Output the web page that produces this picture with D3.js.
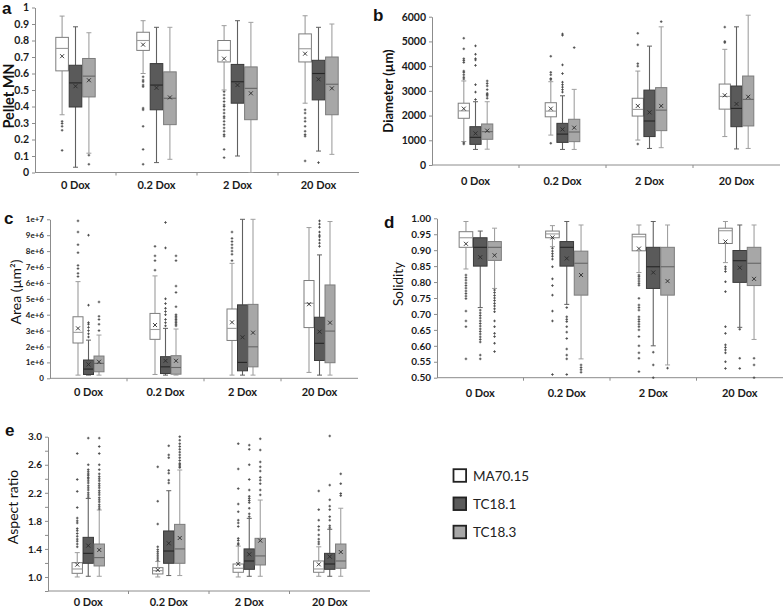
<!DOCTYPE html>
<html><head><meta charset="utf-8">
<script src="https://cdn.jsdelivr.net/npm/d3@7"></script>
<style>body{margin:0;background:#fff} svg{display:block}</style>
</head><body>
<svg id="chart" width="784" height="609"></svg>
<script>
const categories = ["0 Dox", "0.2 Dox", "2 Dox", "20 Dox"];
const series = ["MA70.15", "TC18.1", "TC18.3"];

// Each stat row: [low whisker, Q1, median, Q3, high whisker, mean]; indexed [category][series]
const pelletStats = [
  [[0.35, 0.616, 0.752, 0.819, 0.948, 0.705], [0.032, 0.397, 0.543, 0.65, 0.883, 0.523], [0.117, 0.458, 0.584, 0.691, 0.847, 0.559]],
  [[0.60, 0.74, 0.80, 0.85, 0.92, 0.775], [0.06, 0.38, 0.53, 0.66, 0.88, 0.513], [0.08, 0.29, 0.45, 0.61, 0.88, 0.455]],
  [[0.50, 0.67, 0.74, 0.80, 0.89, 0.69], [0.10, 0.42, 0.55, 0.655, 0.92, 0.53], [0.0, 0.32, 0.51, 0.64, 0.91, 0.48]],
  [[0.42, 0.67, 0.75, 0.84, 0.95, 0.72], [0.13, 0.44, 0.60, 0.68, 0.88, 0.565], [0.11, 0.35, 0.535, 0.70, 0.90, 0.51]]
];
const pelletOutliers = [
  [[0.31, 0.297, 0.28, 0.256, 0.134], [], [0.105, 0.05]],
  [[0.58, 0.56, 0.55, 0.53, 0.52, 0.39, 0.38, 0.28, 0.14, 0.05], [], []],
  [[0.49, 0.47, 0.45, 0.43, 0.41, 0.40, 0.38, 0.36, 0.34, 0.33, 0.31, 0.29, 0.27, 0.25, 0.23, 0.22, 0.14, 0.09], [], []],
  [[0.38, 0.36, 0.33, 0.31, 0.28, 0.25, 0.23, 0.22, 0.07], [0.06], []]
];
const pelletTicks = [0, 0.1, 0.2, 0.3, 0.4, 0.5, 0.6, 0.7, 0.8, 0.9, 1];

const diameterStats = [
  [[950, 1890, 2190, 2500, 3400, 2280], [630, 835, 1120, 1550, 2560, 1280], [640, 1040, 1350, 1660, 2560, 1390]],
  [[1210, 1950, 2180, 2520, 3370, 2280], [630, 915, 1250, 1685, 2800, 1440], [630, 945, 1335, 1850, 3060, 1510]],
  [[1010, 1980, 2250, 2700, 3800, 2390], [670, 1150, 1780, 3030, 4810, 2130], [700, 1390, 2220, 3130, 5590, 2390]],
  [[1150, 2260, 2775, 3275, 4680, 2820], [650, 1550, 2290, 3195, 5590, 2470], [670, 1580, 2655, 3600, 6060, 2760]]
];
const diameterOutliers = [
  [[5130, 4700, 4300, 4230, 4150, 3800, 3750, 3650, 3550, 3480, 900, 850], [4820, 4480, 4300, 4250, 4030, 3250, 2950, 2650], [3400, 3300, 3200, 3050, 2900, 2850, 2800, 2700]],
  [[4400, 3750, 3650, 3500, 3450, 880], [5300, 5250, 4050, 3700, 3350, 3250, 3150, 3050, 2950], [4750]],
  [[5330, 4860, 4100, 4000, 850], [], [5800]],
  [[5580, 5000, 4950], [], []]
];
const diameterTicks = [0, 1000, 2000, 3000, 4000, 5000, 6000];

const areaStats = [
  [[0.2e6, 2.22e6, 2.89e6, 3.87e6, 6.08e6, 3.14e6], [0.2e6, 0.24e6, 0.58e6, 1.15e6, 2.4e6, 0.87e6], [0.2e6, 0.41e6, 0.94e6, 1.4e6, 2.72e6, 1.04e6]],
  [[0.24e6, 2.45e6, 3.07e6, 4.08e6, 6.44e6, 3.35e6], [0.2e6, 0.3e6, 0.72e6, 1.36e6, 3.14e6, 1.1e6], [0.2e6, 0.26e6, 0.68e6, 1.42e6, 3.1e6, 1.1e6]],
  [[0.2e6, 2.38e6, 3.14e6, 4.36e6, 7.23e6, 3.52e6], [0.2e6, 0.47e6, 1.0e6, 4.62e6, 10.0e6, 2.58e6], [0.2e6, 0.72e6, 1.98e6, 4.65e6, 10.0e6, 2.87e6]],
  [[0.37e6, 3.19e6, 4.72e6, 6.15e6, 9.48e6, 4.66e6], [0.2e6, 1.12e6, 2.2e6, 3.84e6, 7.76e6, 2.93e6], [0.2e6, 0.98e6, 2.97e6, 5.87e6, 9.86e6, 3.5e6]]
];
const areaOutliers = [
  [[9.9e6, 9.2e6, 8.4e6, 7.9e6, 7.1e6, 6.9e6, 6.6e6, 6.4e6], [9.0e6, 4.6e6, 3.5e6, 3.4e6, 3.2e6, 3.0e6, 2.8e6, 2.6e6], [4.8e6, 3.9e6, 3.7e6, 3.4e6, 3.0e6]],
  [[8.3e6, 7.7e6, 7.4e6, 6.8e6], [9.8e6, 8.2e6, 5.0e6, 4.7e6, 4.4e6, 4.2e6, 4.0e6, 3.7e6, 3.5e6, 3.3e6], [7.7e6, 7.4e6, 5.8e6, 5.4e6, 4.5e6, 4.0e6, 3.9e6, 3.8e6, 3.7e6, 3.6e6, 3.5e6, 3.4e6, 3.3e6]],
  [[9.2e6, 8.8e6, 8.6e6, 8.4e6, 8.2e6, 8.0e6, 7.8e6, 7.4e6], [], []],
  [[], [9.9e6, 9.7e6, 9.5e6, 9.2e6, 9.0e6, 8.9e6, 8.7e6, 8.5e6, 8.3e6], []]
];
const areaTicks = [0, 1e6, 2e6, 3e6, 4e6, 5e6, 6e6, 7e6, 8e6, 9e6, 1e7];
const areaTickLabels = ["0", "1e+6", "2e+6", "3e+6", "4e+6", "5e+6", "6e+6", "7e+6", "8e+6", "9e+6", "1e+7"];

const solidityStats = [
  [[0.841, 0.909, 0.939, 0.958, 0.99, 0.92], [0.72, 0.85, 0.909, 0.939, 0.96, 0.878], [0.78, 0.868, 0.909, 0.927, 0.969, 0.884]],
  [[0.911, 0.939, 0.951, 0.96, 0.977, 0.94], [0.73, 0.85, 0.909, 0.927, 0.99, 0.874], [0.559, 0.759, 0.859, 0.897, 0.979, 0.822]],
  [[0.83, 0.898, 0.942, 0.95, 0.979, 0.905], [0.6, 0.78, 0.848, 0.909, 0.99, 0.83], [0.54, 0.759, 0.848, 0.909, 0.979, 0.803]],
  [[0.861, 0.921, 0.961, 0.969, 0.99, 0.927], [0.658, 0.799, 0.867, 0.899, 0.979, 0.845], [0.62, 0.789, 0.859, 0.909, 0.979, 0.81]]
];
const solidityOutliers = [
  [[0.822, 0.814, 0.806, 0.797, 0.789, 0.781, 0.772, 0.764, 0.756, 0.748, 0.709, 0.678, 0.66, 0.559],
   [0.712, 0.703, 0.695, 0.687, 0.678, 0.67, 0.662, 0.653, 0.645, 0.637, 0.628, 0.62, 0.612, 0.571, 0.559],
   [0.775, 0.767, 0.758, 0.75, 0.742, 0.733, 0.725, 0.716, 0.707, 0.678, 0.66, 0.639, 0.629, 0.608, 0.582]],
  [[0.906, 0.897, 0.889, 0.881, 0.872, 0.848, 0.81, 0.789, 0.759, 0.709, 0.678, 0.51],
   [0.72, 0.691, 0.683, 0.676, 0.66, 0.643, 0.623, 0.59, 0.571, 0.559, 0.51],
   [0.54, 0.532, 0.525, 0.517]],
  [[0.822, 0.817, 0.81, 0.803, 0.796, 0.79, 0.749, 0.728, 0.72, 0.712, 0.691, 0.683, 0.676, 0.668, 0.66, 0.65, 0.629, 0.6, 0.578, 0.561, 0.519],
   [0.58, 0.54, 0.5], [0.53]],
  [[0.848, 0.841, 0.833, 0.801, 0.77, 0.66, 0.639, 0.603, 0.595, 0.587, 0.578, 0.55, 0.529],
   [0.652, 0.561, 0.529], [0.561, 0.54, 0.5]]
];
const solidityTicks = [0.50, 0.55, 0.60, 0.65, 0.70, 0.75, 0.80, 0.85, 0.90, 0.95, 1.00];

const aspectStats = [
  [[1.0, 1.052, 1.114, 1.204, 1.347, 1.176], [1.01, 1.195, 1.337, 1.565, 2.12, 1.447], [1.01, 1.157, 1.276, 1.47, 1.955, 1.385]],
  [[1.0, 1.043, 1.09, 1.133, 1.22, 1.1], [1.02, 1.195, 1.37, 1.656, 2.23, 1.48], [1.02, 1.195, 1.4, 1.75, 2.525, 1.556]],
  [[1.0, 1.067, 1.124, 1.185, 1.44, 1.185], [1.01, 1.109, 1.228, 1.4, 1.836, 1.323], [1.01, 1.171, 1.3, 1.551, 2.097, 1.518]],
  [[1.01, 1.067, 1.114, 1.228, 1.43, 1.18], [1.01, 1.109, 1.185, 1.337, 1.68, 1.29], [1.01, 1.124, 1.228, 1.47, 1.98, 1.356]]
];
const aspectOutliers = [
  [[2.76, 2.39, 2.22, 1.99, 1.84, 1.8, 1.77, 1.69, 1.66, 1.62, 1.58, 1.54, 1.51, 1.47, 1.43],
   [2.98, 2.6, 2.53, 2.5, 2.47, 2.45, 2.42, 2.4, 2.37, 2.34, 2.3, 2.27, 2.24, 2.2, 2.17, 2.14],
   [2.98, 2.86, 2.76, 2.6, 2.53, 2.47, 2.43, 2.4, 2.37, 2.33, 2.3, 2.27, 2.23, 2.2, 2.17, 2.13, 2.1, 2.07, 2.03, 2.0, 1.97]],
  [[2.57, 2.08, 1.755, 1.43, 1.39, 1.36, 1.33, 1.3, 1.27, 1.24],
   [2.87, 2.74, 2.7, 2.52, 2.48, 2.38, 2.34],
   [3.0, 2.95, 2.9, 2.86, 2.82, 2.78, 2.74, 2.7, 2.66, 2.62, 2.6, 2.58, 2.56]],
  [[2.9, 2.54, 2.26, 2.04, 1.93, 1.81, 1.77, 1.72, 1.55, 1.52, 1.48, 1.46],
   [2.88, 2.82, 2.6, 2.39, 2.24, 2.15, 2.12, 2.09, 2.06, 1.98, 1.9, 1.86],
   [2.97, 2.81, 2.64, 2.57, 2.51, 2.42, 2.38, 2.33, 2.24, 2.17]],
  [[2.226, 1.96, 1.81, 1.72, 1.67, 1.6, 1.54, 1.5, 1.47],
   [3.01, 2.31, 2.1, 2.01, 1.96, 1.86, 1.81, 1.73, 1.7],
   [2.47, 2.33, 2.19, 2.16]]
];
const aspectTicks = [0.8, 1.0, 1.2, 1.4, 1.6, 1.8, 2.0, 2.2, 2.4, 2.6, 2.8, 3.0];
const aspectLabelled = [1.0, 1.4, 1.8, 2.2, 2.6, 3.0];

// ---------- layout ----------
const FONT = "Lato, 'Liberation Sans', Arial, sans-serif";
const LETTER_FONT = "'Liberation Sans', Arial, sans-serif";

const panels = [
  { letter: "a", lx: 2, ly: 14, stats: pelletStats, outliers: pelletOutliers, domain: [0, 1], ticks: pelletTicks,
    fmt: d => d === 0 ? "0" : d === 1 ? "1" : d3.format(".1f")(d),
    x0: 35, x1: 359, yTop: 7.5, yBot: 172.5, step: 13.4, boxW: 12.6, tickFont: 10.5, labelY: 189,
    title: "Pellet MN", tx: 8, ty: 96, tSize: 14.5, tWeight: "bold" },
  { letter: "b", lx: 373, ly: 21, stats: diameterStats, outliers: diameterOutliers, domain: [0, 6000], ticks: diameterTicks,
    fmt: d => String(d),
    x0: 432, x1: 780, yTop: 16.7, yBot: 165, step: 11.7, boxW: 11.2, tickFont: 10.5, labelY: 185,
    title: "Diameter (\u00B5m)", tx: 387.5, ty: 91, tSize: 13, tWeight: "bold" },
  { letter: "c", lx: 4, ly: 224, stats: areaStats, outliers: areaOutliers, domain: [0, 1e7], ticks: areaTicks,
    fmt: d => areaTickLabels[areaTicks.indexOf(d)],
    x0: 50, x1: 358, yTop: 219.3, yBot: 378.3, step: 10.5, boxW: 10, tickFont: 8, labelY: 396,
    title: "Area (\u00B5m\u00B2)", tx: 15, ty: 292, tSize: 14, tWeight: "normal" },
  { letter: "d", lx: 384, ly: 228, stats: solidityStats, outliers: solidityOutliers, domain: [0.5, 1.0], ticks: solidityTicks,
    fmt: d3.format(".2f"),
    x0: 437, x1: 783, yTop: 218.3, yBot: 377.7, step: 14.3, boxW: 13.6, tickFont: 10, labelY: 397,
    title: "Solidity", tx: 398, ty: 284, tSize: 13.5, tWeight: "normal" },
  { letter: "e", lx: 5, ly: 436, stats: aspectStats, outliers: aspectOutliers, domain: [0.8, 3.0], ticks: aspectTicks,
    fmt: d => aspectLabelled.some(v => Math.abs(v - d) < 1e-9) ? d3.format(".1f")(d) : "",
    x0: 48, x1: 370, yTop: 436.7, yBot: 591, step: 11, boxW: 10.4, tickFont: 10, labelY: 606,
    title: "Aspect ratio", tx: 12, ty: 507, tSize: 14, tWeight: "normal" }
];

const seriesStyle = [
  { fill: "#ffffff", stroke: "#7d7d7d", median: "#9a9a9a", whisker: "#9c9c9c" },
  { fill: "#5a5a5a", stroke: "#3a3a3a", median: "#262626", whisker: "#606060" },
  { fill: "#a7a7a7", stroke: "#7c7c7c", median: "#666666", whisker: "#a0a0a0" }
];

const svg = d3.select("#chart");
svg.append("rect").attr("width", 784).attr("height", 609).attr("fill", "#fff");

panels.forEach(p => {
  const g = svg.append("g");
  const x = d3.scaleBand().domain(categories).range([p.x0, p.x1]);
  const xs = d3.scaleBand().domain(series).range([-1.5 * p.step, 1.5 * p.step]);
  const y = d3.scaleLinear().domain(p.domain).range([p.yBot, p.yTop]);

  // y axis
  const ya = g.append("g").attr("transform", `translate(${p.x0},0)`)
    .call(d3.axisLeft(y).tickValues(p.ticks).tickSize(3).tickSizeOuter(0).tickPadding(3).tickFormat(p.fmt));
  ya.select(".domain").attr("stroke", "#8c8c8c");
  ya.selectAll(".tick line").attr("stroke", "#8c8c8c");
  ya.selectAll(".tick text").attr("font-family", FONT).attr("font-weight", "bold")
    .attr("font-size", p.tickFont).attr("fill", "#1a1a1a");

  // x axis
  g.append("line").attr("x1", p.x0).attr("x2", p.x1).attr("y1", p.yBot).attr("y2", p.yBot)
    .attr("stroke", "#8c8c8c");
  g.selectAll(".xtick").data(categories.slice(1)).join("line")
    .attr("x1", d => x(d)).attr("x2", d => x(d)).attr("y1", p.yBot).attr("y2", p.yBot + 3)
    .attr("stroke", "#8c8c8c");
  g.selectAll(".xlab").data(categories).join("text")
    .attr("x", d => x(d) + x.bandwidth() / 2).attr("y", p.labelY)
    .attr("text-anchor", "middle").attr("font-family", FONT).attr("font-weight", "bold")
    .attr("font-size", 11).attr("fill", "#1a1a1a").text(d => d);

  // boxes
  categories.forEach((cat, ci) => {
    series.forEach((s, si) => {
      const [lo, q1, med, q3, hi, mean] = p.stats[ci][si];
      const cx = x(cat) + x.bandwidth() / 2 + xs(s) + xs.bandwidth() / 2;
      const w = p.boxW;
      const sty = seriesStyle[si];
      const bg = g.append("g");
      bg.append("line").attr("x1", cx).attr("x2", cx).attr("y1", y(lo)).attr("y2", y(q1))
        .attr("stroke", sty.whisker).attr("stroke-width", 1.1);
      bg.append("line").attr("x1", cx).attr("x2", cx).attr("y1", y(q3)).attr("y2", y(hi))
        .attr("stroke", sty.whisker).attr("stroke-width", 1.1);
      [lo, hi].forEach(v => bg.append("line").attr("x1", cx - 2.5).attr("x2", cx + 2.5)
        .attr("y1", y(v)).attr("y2", y(v)).attr("stroke", sty.whisker).attr("stroke-width", 1));
      bg.append("rect").attr("x", cx - w / 2).attr("y", y(q3)).attr("width", w)
        .attr("height", Math.max(0.5, y(q1) - y(q3)))
        .attr("fill", sty.fill).attr("stroke", sty.stroke).attr("stroke-width", 1);
      bg.append("line").attr("x1", cx - w / 2).attr("x2", cx + w / 2).attr("y1", y(med)).attr("y2", y(med))
        .attr("stroke", sty.median).attr("stroke-width", 1.1);
      bg.append("path").attr("transform", `translate(${cx},${y(mean)})`)
        .attr("d", "M-2,-2L2,2M-2,2L2,-2").attr("stroke", "#2a2a2a").attr("stroke-width", 0.9).attr("fill", "none");
      bg.selectAll(".out").data(p.outliers[ci][si]).join("path")
        .attr("transform", d => `translate(${cx},${y(d)})`)
        .attr("d", "M-1.3,0H1.3M0,-1.3V1.3").attr("stroke", "#4a4a4a").attr("stroke-width", 0.9);
    });
  });

  g.append("text").attr("transform", `translate(${p.tx},${p.ty}) rotate(-90)`)
    .attr("text-anchor", "middle").attr("dominant-baseline", "central")
    .attr("font-family", FONT).attr("font-weight", p.tWeight).attr("font-size", p.tSize)
    .attr("fill", "#111").text(p.title);
  g.append("text").attr("x", p.lx).attr("y", p.ly).attr("font-family", LETTER_FONT)
    .attr("font-weight", "bold").attr("font-size", 17).attr("fill", "#111").text(p.letter);
});

// legend
const legendFill = ["#ffffff", "#5a5a5a", "#a7a7a7"];
const legendY = d3.scalePoint().domain(series).range([475.5, 532]);
const lg = svg.append("g");
series.forEach((s, i) => {
  lg.append("rect").attr("x", 453.5).attr("y", legendY(s) - 6.3).attr("width", 12.6).attr("height", 12.6)
    .attr("fill", legendFill[i]).attr("stroke", "#222").attr("stroke-width", 1.8);
  lg.append("text").attr("x", 473).attr("y", legendY(s)).attr("dominant-baseline", "central")
    .attr("font-family", FONT).attr("font-size", 13.5).attr("fill", "#222").text(s);
});
</script>
</body></html>
